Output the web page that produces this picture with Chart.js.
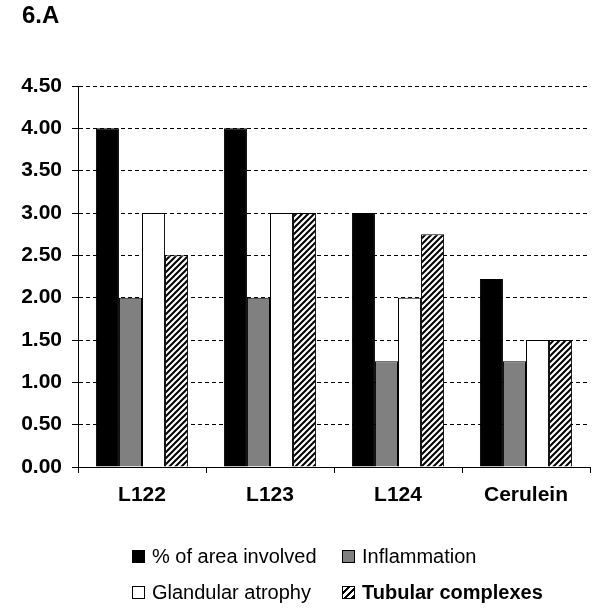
<!DOCTYPE html>
<html>
<head>
<meta charset="utf-8">
<script src="https://cdn.jsdelivr.net/npm/chart.js@4/dist/chart.umd.min.js"></script>
<style>
    body { margin: 0; background: #fff; font-family: 'Liberation Sans', Arial, sans-serif; }
    #wrap { position: relative; width: 600px; height: 614px; }
    #title { position: absolute; left: 22px; top: 1px; font-size: 24px; font-weight: bold; color: #000; }
    .leg { position: absolute; font-size: 20px; color: #000; line-height: 24px; white-space: nowrap; }
    .box { display: inline-block; width: 11px; height: 11px; border: 1px solid #000; margin-right: 7px; vertical-align: 0px; }
</style>
</head>
<body>
<div id="wrap">
    <canvas id="chart" width="600" height="614"></canvas>
    <div id="title">6.A</div>
    <div class="leg" style="left:132px; top:544px;"><span class="box" style="background:#000"></span>% of area involved</div>
    <div class="leg" style="left:342px; top:544px;"><span class="box" style="background:#808080"></span>Inflammation</div>
    <div class="leg" style="left:132px; top:580px;"><span class="box" style="background:#fff"></span>Glandular atrophy</div>
    <div class="leg" style="left:342px; top:580px; font-weight:bold;"><span class="box" style="background:repeating-linear-gradient(135deg,#fff 0 3px,#000 3px 5px)"></span>Tubular complexes</div>
</div>
<script>
// chart data
const categories = ['L122', 'L123', 'L124', 'Cerulein'];
const areaInvolved = [4.00, 4.00, 3.00, 2.22];
const inflammation = [2.00, 2.00, 1.25, 1.25];
const glandularAtrophy = [3.00, 3.00, 2.00, 1.50];
const tubularComplexes = [2.50, 3.00, 2.75, 1.50];

// diagonal hatch fill
function makeHatch() {
    const c = document.createElement('canvas');
    c.width = 6;
    c.height = 6;
    const g = c.getContext('2d');
    g.fillStyle = '#fff';
    g.fillRect(0, 0, 6, 6);
    g.strokeStyle = '#000';
    g.lineWidth = 2;
    g.beginPath();
    g.moveTo(-1, 7); g.lineTo(7, -1);
    g.moveTo(-4, 4); g.lineTo(4, -4);
    g.moveTo(2, 10); g.lineTo(10, 2);
    g.stroke();
    return g.createPattern(c, 'repeat');
}

const fontFamily = "'Liberation Sans', Arial, sans-serif";

function bar(label, data, fill) {
    return {
        label: label,
        data: data,
        backgroundColor: fill,
        borderColor: '#000',
        borderWidth: 1,
        categoryPercentage: 0.72,
        barPercentage: 1.0
    };
}

new Chart(document.getElementById('chart'), {
    type: 'bar',
    data: {
        labels: categories,
        datasets: [
            bar('% of area involved', areaInvolved, '#000'),
            bar('Inflammation', inflammation, '#808080'),
            bar('Glandular atrophy', glandularAtrophy, '#fff'),
            bar('Tubular complexes', tubularComplexes, makeHatch())
        ]
    },
    options: {
        responsive: false,
        animation: false,
        layout: { padding: { left: 0, top: 86, right: 10, bottom: 0 } },
        plugins: {
            legend: { display: false },
            tooltip: { enabled: false }
        },
        scales: {
            x: {
                afterFit: (s) => { s.height = 147; },
                grid: {
                    offset: true,
                    drawOnChartArea: false,
                    drawTicks: true,
                    tickLength: 6,
                    tickColor: '#000'
                },
                border: { display: true, color: '#000', width: 1 },
                ticks: {
                    color: '#000',
                    padding: 10,
                    font: { family: fontFamily, size: 21, weight: 'bold' }
                }
            },
            y: {
                min: 0,
                max: 4.5,
                afterFit: (s) => { s.width = 78; },
                grid: {
                    color: '#000',
                    lineWidth: 1,
                    tickLength: 6,
                    tickColor: '#000'
                },
                border: { display: true, color: '#000', width: 1, dash: [4, 3] },
                ticks: {
                    stepSize: 0.5,
                    color: '#000',
                    padding: 10,
                    font: { family: fontFamily, size: 21, weight: 'bold' },
                    callback: (v) => Number(v).toFixed(2)
                }
            }
        }
    }
});
</script>
</body>
</html>
